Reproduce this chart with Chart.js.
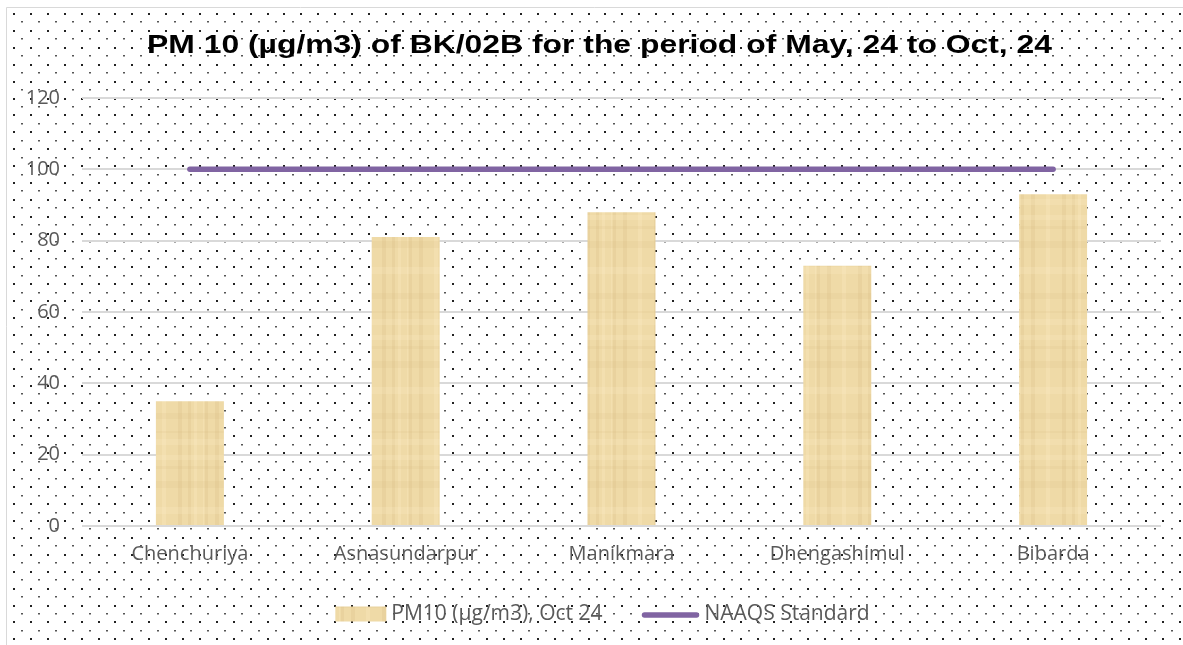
<!DOCTYPE html>
<html>
<head>
<meta charset="utf-8">
<script src="https://cdn.jsdelivr.net/npm/chart.js@4/dist/chart.umd.min.js"></script>
<style>
  html, body { margin: 0; padding: 0; background: #ffffff; }
  #wrap { position: relative; width: 1183px; height: 645px; }
</style>
</head>
<body>
<div id="wrap"><canvas id="c" width="1183" height="645"></canvas></div>
<script>
const categories = ["Chenchuriya", "Asnasundarpur", "Manikmara", "Dhengashimul", "Bibarda"];
const pm10Values = [35, 81, 88, 73, 93];
const naaqsValues = [100, 100, 100, 100, 100];
const seriesNames = ["PM10 (\u00b5g/m3), Oct 24", "NAAQS Standard"];
const titleText = "PM 10 (\u00b5g/m3) of BK/02B for the period of May, 24 to Oct, 24";
const yTicks = [0, 20, 40, 60, 80, 100, 120];

const LABEL_FONT = "Open Sans";
const GRAY = "#595959";
const PURPLE = "#8064A2";

// papyrus-like texture tile (deterministic)
function makePapyrus() {
  const t = document.createElement("canvas");
  t.width = 68; t.height = 120;
  const g = t.getContext("2d");
  g.fillStyle = "#EFDAA7";
  g.fillRect(0, 0, t.width, t.height);
  for (let x = 0; x < t.width; x++) {
    const v = Math.sin(x * 0.61 + 0.4) * 0.6 + Math.sin(x * 0.17) * 0.4;
    g.fillStyle = v > 0.55 ? "rgba(200,170,110,0.15)" : (v < -0.6 ? "rgba(255,240,200,0.25)" : "rgba(0,0,0,0)");
    g.fillRect(x, 0, 1, t.height);
  }
  for (let y = 0; y < t.height; y++) {
    const v = Math.sin(y * 0.37) * 0.5 + Math.sin(y * 0.11 + 1.3) * 0.5;
    g.fillStyle = v > 0.6 ? "rgba(205,175,115,0.11)" : (v < -0.6 ? "rgba(255,242,205,0.2)" : "rgba(0,0,0,0)");
    g.fillRect(0, y, t.width, 1);
  }
  return t;
}
const papyrusTile = makePapyrus();
const ctx = document.getElementById("c").getContext("2d");
const papyrus = ctx.createPattern(papyrusTile, "repeat");

const backgroundPlugin = {
  id: "bgDots",
  beforeDraw(chart) {
    const c = chart.ctx;
    c.save();
    c.fillStyle = "#ffffff";
    c.fillRect(0, 0, chart.width, chart.height);
    c.strokeStyle = "#D9D9D9";
    c.lineWidth = 1;
    c.beginPath();
    c.moveTo(6.5, chart.height);
    c.lineTo(6.5, 7.5);
    c.lineTo(chart.width, 7.5);
    c.stroke();
    const dx = 16.9, dy = 8.45;
    let r = 0;
    for (let y = 13; y < chart.height; y += dy, r++) {
      const off = (r % 2) ? 8.45 : 0;
      c.fillStyle = (r % 2) ? "#555555" : "#222222";
      for (let x = 13 + off - dx; x < chart.width; x += dx) {
        if (x < 8) continue;
        c.fillRect(Math.round(x), Math.round(y), 2, (r % 2) ? 1.5 : 2);
      }
    }
    c.restore();
  }
};

const titlePlugin = {
  id: "stretchedTitle",
  afterDraw(chart) {
    const c = chart.ctx;
    c.save();
    c.font = "bold 26px 'Liberation Sans'";
    c.textBaseline = "middle";
    c.textAlign = "center";
    c.fillStyle = "#000000";
    const w = c.measureText(titleText).width;
    const sx = 905 / w;
    c.translate(599.5, 46);
    c.scale(sx, 1);
    c.fillText(titleText, 0, 0);
    c.restore();
  }
};

const legendPlugin = {
  id: "customLegend",
  afterDraw(chart) {
    const c = chart.ctx;
    c.save();
    c.font = "21px '" + LABEL_FONT + "'";
    c.textBaseline = "middle";
    c.textAlign = "left";
    const y = 614;
    const boxW = 51, lineW = 58, gap = 5, itemGap = 39;
    const w1 = c.measureText(seriesNames[0]).width;
    const w2 = c.measureText(seriesNames[1]).width;
    const total = boxW + gap + w1 + itemGap + lineW + gap + w2;
    let x = 602.5 - total / 2;
    c.fillStyle = papyrus;
    c.fillRect(x, y - 7.5, boxW, 15);
    x += boxW + gap;
    c.fillStyle = GRAY;
    c.fillText(seriesNames[0], x, y);
    x += w1 + itemGap;
    c.strokeStyle = PURPLE;
    c.lineWidth = 5.5;
    c.lineCap = "round";
    c.beginPath();
    c.moveTo(x + 3, y + 1);
    c.lineTo(x + lineW - 3, y + 1);
    c.stroke();
    x += lineW + gap;
    c.fillStyle = GRAY;
    c.fillText(seriesNames[1], x, y);
    c.restore();
  }
};

new Chart(ctx, {
  data: {
    labels: categories,
    datasets: [
      {
        type: "line",
        label: seriesNames[1],
        data: naaqsValues,
        borderColor: PURPLE,
        backgroundColor: PURPLE,
        borderWidth: 5.5,
        borderCapStyle: "round",
        pointRadius: 0,
        pointHoverRadius: 0,
        tension: 0,
        order: 0
      },
      {
        type: "bar",
        label: seriesNames[0],
        data: pm10Values,
        backgroundColor: papyrus,
        borderWidth: 0,
        categoryPercentage: 1,
        barPercentage: 0.315,
        order: 1
      }
    ]
  },
  options: {
    responsive: false,
    animation: false,
    events: [],
    layout: { padding: { left: 0, right: 22, top: 98, bottom: 60 } },
    plugins: {
      legend: { display: false },
      tooltip: { enabled: false },
      title: { display: false }
    },
    scales: {
      x: {
        grid: { display: false, drawTicks: false },
        border: { display: false },
        ticks: { color: GRAY, font: { family: LABEL_FONT, size: 20 }, padding: 16, maxRotation: 0 },
        afterFit(scale) { scale.height = 59; }
      },
      y: {
        min: 0,
        max: 120,
        afterBuildTicks(scale) { scale.ticks = yTicks.map(v => ({ value: v })); },
        grid: { color: "#D9D9D9", lineWidth: 2, drawTicks: false },
        border: { display: false },
        ticks: { color: GRAY, font: { family: LABEL_FONT, size: 20 }, padding: 22 },
        afterFit(scale) { scale.width = 82; }
      }
    }
  },
  plugins: [backgroundPlugin, titlePlugin, legendPlugin]
});
</script>
</body>
</html>
